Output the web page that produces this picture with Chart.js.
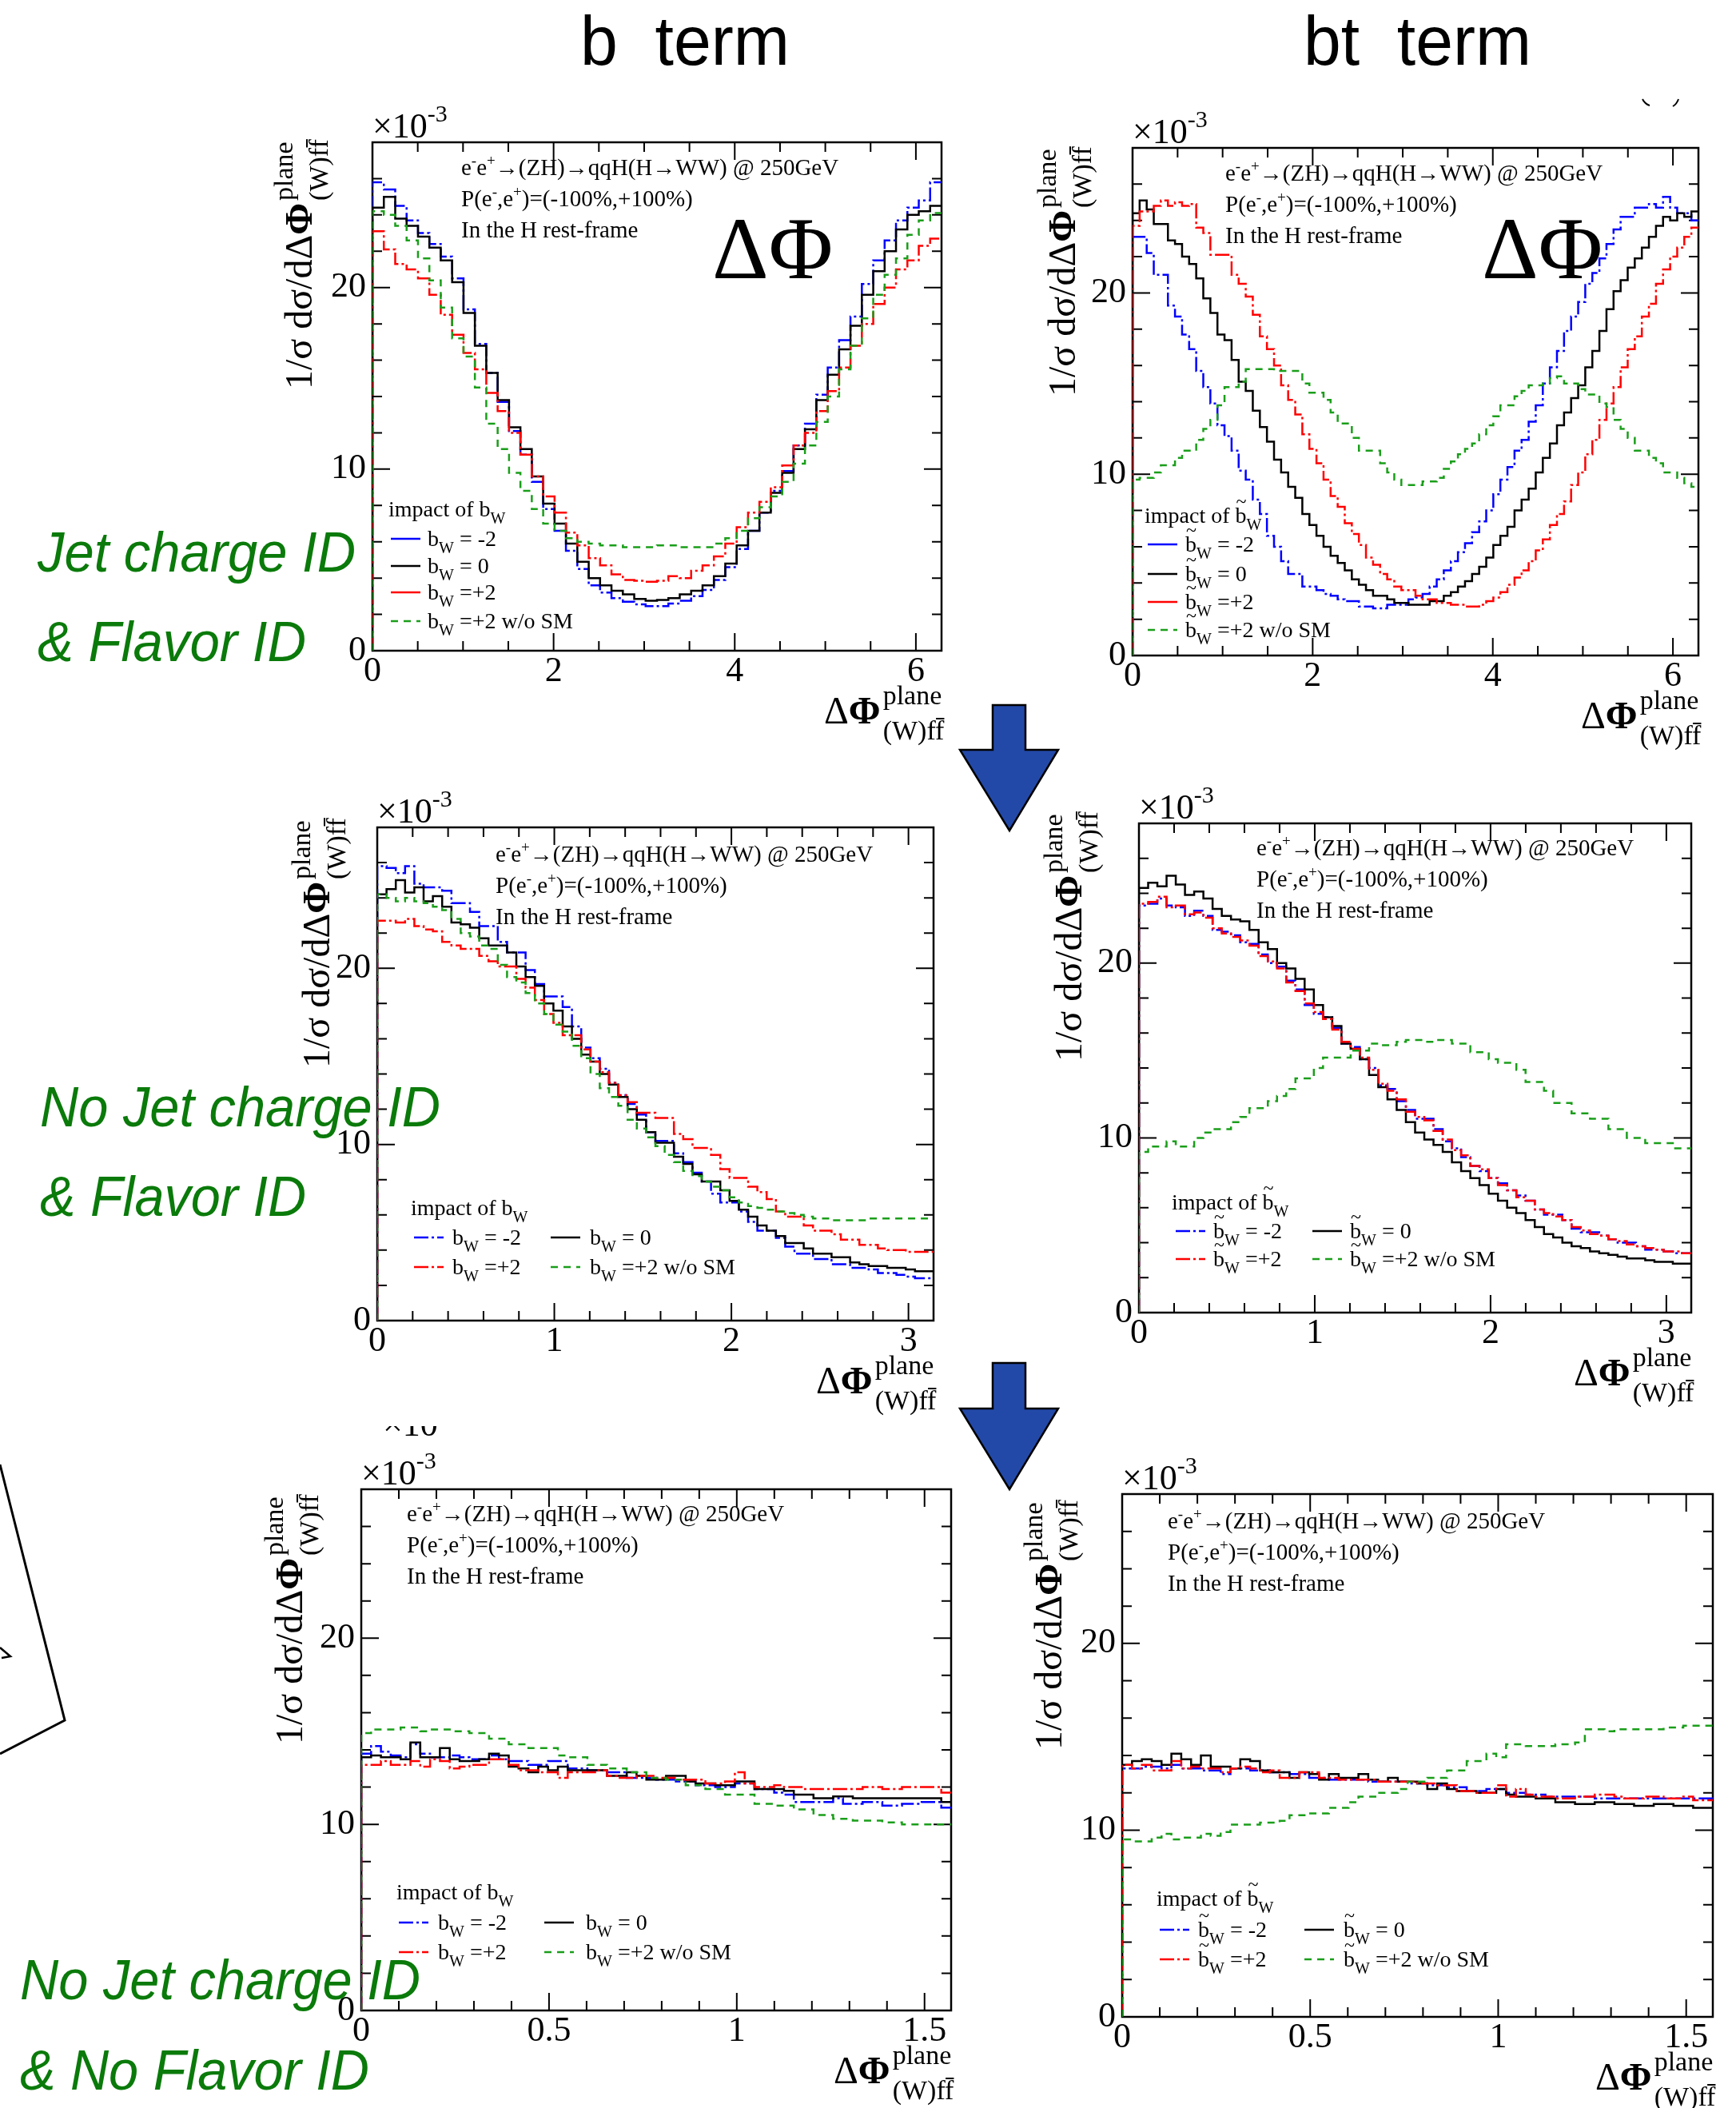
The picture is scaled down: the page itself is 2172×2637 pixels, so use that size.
<!DOCTYPE html>
<html>
<head>
<meta charset="utf-8">
<script src="https://cdn.jsdelivr.net/npm/chart.js@4.4.0/dist/chart.umd.min.js"></script>
<style>
  html, body { margin: 0; padding: 0; background: #fff; }
  #page { position: relative; width: 2172px; height: 2637px; overflow: hidden; background: #fff; }
  #page canvas { position: absolute; }
  #overlay { position: absolute; left: 0; top: 0; }
</style>
</head>
<body>
<div id="page">
  <canvas id="p1"></canvas>
  <canvas id="p2"></canvas>
  <canvas id="p3"></canvas>
  <canvas id="p4"></canvas>
  <canvas id="p5"></canvas>
  <canvas id="p6"></canvas>
  <svg id="overlay" width="2172" height="2637" xmlns="http://www.w3.org/2000/svg">
    <g font-family="Liberation Sans Narrow, Liberation Sans, Arial, sans-serif" font-size="88" fill="#000">
      <text x="726" y="81" textLength="262" lengthAdjust="spacingAndGlyphs" style="white-space:pre">b  term</text>
      <text x="1631" y="81" textLength="285" lengthAdjust="spacingAndGlyphs" style="white-space:pre">bt  term</text>
    </g>
    <g font-family="Liberation Sans, Arial, sans-serif" font-style="italic" font-size="70" fill="#0a7a0a">
      <text x="47" y="715" textLength="398" lengthAdjust="spacingAndGlyphs">Jet charge ID</text>
      <text x="47" y="827" textLength="336" lengthAdjust="spacingAndGlyphs">&amp; Flavor ID</text>
      <text x="50" y="1409" textLength="501" lengthAdjust="spacingAndGlyphs">No Jet charge ID</text>
      <text x="50" y="1521" textLength="333" lengthAdjust="spacingAndGlyphs">&amp; Flavor ID</text>
      <text x="25" y="2501" textLength="501" lengthAdjust="spacingAndGlyphs">No Jet charge ID</text>
      <text x="25" y="2614" textLength="437" lengthAdjust="spacingAndGlyphs">&amp; No Flavor ID</text>
    </g>
    <g fill="#2349a8" stroke="#000" stroke-width="2.5" stroke-linejoin="miter">
      <polygon points="1242,882 1283,882 1283,938 1324,938 1263,1039 1201,938 1242,938"/>
      <polygon points="1242,1705 1283,1705 1283,1762 1324,1762 1263,1863 1201,1762 1242,1762"/>
    </g>
    <polyline points="0,1832 81,2152 0,2194" fill="none" stroke="#000" stroke-width="3"/>
    <polyline points="0,2061 13,2072 2,2074" fill="none" stroke="#000" stroke-width="2.5"/>
    <path d="M2055,124 q3,6 9,8" fill="none" stroke="#000" stroke-width="2"/>
    <path d="M2100,124 q-2,6 -7,9" fill="none" stroke="#000" stroke-width="2"/>
    <clipPath id="cut"><rect x="470" y="1784" width="110" height="16"/></clipPath>
    <text clip-path="url(#cut)" x="479" y="1796" font-family="Liberation Serif, serif" font-size="44">×10<tspan dy="-20" font-size="30">-3</tspan></text>
  </svg>
</div>
<script>
// bin contents, in units of 1e-3
const p1Blue = [25.8,25.4,24.5,23.7,23.0,22.4,21.7,20.5,18.8,16.9,15.3,13.7,12.1,10.8,9.3,7.8,6.6,5.5,4.5,3.6,3.2,2.9,2.7,2.55,2.45,2.45,2.6,2.75,3.0,3.35,3.9,4.6,5.6,6.6,7.6,8.8,9.9,11.3,12.5,14.1,15.6,17.1,18.4,20.2,21.5,22.6,23.7,24.4,24.8,25.8];
const p1Black = [24.4,25.0,23.8,23.4,22.8,22.2,21.5,20.3,18.6,16.8,15.3,13.8,12.3,11.1,9.6,8.1,7.0,5.9,4.9,4.0,3.6,3.3,3.1,2.85,2.75,2.8,2.9,3.1,3.3,3.6,4.1,4.8,5.8,6.6,7.6,8.7,9.8,11.1,12.2,13.8,15.2,16.6,17.9,19.6,20.9,22.0,23.2,24.0,24.2,24.5];
const p1Red = [23.1,22.1,21.3,21.0,20.5,19.6,18.5,17.4,16.4,15.5,14.2,13.2,12.0,10.8,9.6,8.5,7.6,6.5,5.8,5.1,4.7,4.2,3.9,3.85,3.8,3.85,4.1,4.0,4.4,4.7,5.2,5.9,6.8,7.6,8.2,9.0,10.2,11.3,12.0,13.2,14.3,15.6,16.8,18.0,19.1,20.0,21.0,21.5,22.3,22.7];
const p1Green = [24.2,24.0,23.4,22.6,21.6,20.4,18.9,17.2,16.2,14.5,12.5,11.1,9.8,8.8,7.8,7.0,6.6,6.2,6.0,5.9,5.8,5.8,5.7,5.7,5.7,5.8,5.8,5.7,5.7,5.7,5.9,6.2,6.6,7.3,7.9,8.5,9.3,10.3,11.3,12.6,14.0,15.5,16.8,18.3,19.6,20.7,21.6,22.9,23.7,24.1];

const p2Blue = [23.1,23.1,22.2,21.0,21.0,19.3,18.7,17.7,16.9,15.7,14.8,13.9,12.7,12.1,11.3,10.2,9.7,8.6,7.8,6.6,6.0,5.2,4.5,4.5,3.8,3.8,3.6,3.4,3.3,3.1,3.0,3.0,2.7,2.7,2.6,2.6,2.8,2.8,2.8,3.1,3.2,3.4,3.8,4.2,4.7,5.2,5.7,6.2,6.8,7.4,8.0,8.9,9.7,10.4,11.3,11.9,12.9,13.8,15.0,15.9,16.8,17.9,18.7,19.5,20.5,21.1,21.9,22.7,23.5,24.2,24.2,24.7,24.7,24.9,24.7,25.3,24.7,24.4,24.4,24.0];
const p2Black = [24.4,25.1,24.6,23.8,23.8,22.9,22.7,22.0,21.6,20.8,19.7,18.9,17.7,17.4,16.3,15.1,14.6,13.5,12.6,11.8,10.8,10.1,9.3,8.7,7.8,7.2,6.6,6.0,5.5,5.1,4.7,4.2,3.9,3.6,3.3,3.3,3.1,2.9,2.9,2.8,2.8,2.8,3.0,3.0,3.3,3.5,3.8,4.1,4.5,4.9,5.4,6.1,6.6,7.1,8.0,8.6,9.2,10.1,10.9,11.7,12.7,13.4,14.2,14.9,15.9,16.8,17.9,19.1,20.1,20.7,21.4,21.9,22.5,23.1,23.7,24.2,24.0,24.4,24.2,24.5];
const p2Red = [23.7,24.5,24.5,24.8,25.1,24.8,25.0,24.8,24.9,23.6,23.3,22.1,22.1,22.1,21.0,20.5,19.8,18.8,17.6,16.9,16.0,14.9,14.1,13.3,12.2,11.4,10.6,9.7,8.8,8.2,7.3,6.7,6.1,5.4,5.0,4.5,4.2,3.8,3.6,3.6,3.3,3.1,3.1,2.9,2.9,2.8,2.8,2.7,2.7,2.8,3.0,3.2,3.5,3.9,4.3,4.7,5.2,5.8,6.4,7.2,7.8,8.5,9.4,10.1,11.1,11.9,13.0,13.9,14.8,15.9,16.9,17.6,18.7,19.4,20.5,21.3,22.0,22.5,23.1,23.6];
const p2Green = [9.7,9.8,9.8,10.1,10.5,10.5,10.9,11.3,11.3,11.9,12.5,13.0,13.8,14.8,14.8,15.1,15.8,15.8,15.8,15.8,15.7,15.7,15.7,15.7,15.0,14.5,14.5,14.1,13.4,12.8,12.8,12.0,11.3,11.3,11.3,10.6,10.1,9.7,9.4,9.4,9.4,9.6,9.6,9.8,10.3,10.7,11.1,11.4,11.7,12.2,12.7,13.2,13.8,13.8,14.3,14.6,14.9,14.9,15.0,15.3,15.4,15.0,15.0,14.7,14.4,14.4,13.9,13.7,13.0,12.5,12.0,11.3,11.3,10.9,10.6,10.1,10.1,9.8,9.5,9.3];

const p3Blue = [25.8,25.7,25.4,25.8,24.8,24.6,24.6,24.4,23.7,23.7,23.2,22.4,22.4,21.5,20.9,20.9,19.9,19.1,18.4,18.4,17.8,16.7,15.5,14.9,14.3,13.5,12.8,12.3,11.7,10.7,10.2,10.2,9.5,9.0,8.4,7.9,7.2,6.7,6.7,6.2,5.6,5.1,5.1,4.7,4.2,3.8,3.8,3.5,3.5,3.2,3.2,3.0,3.0,2.9,2.7,2.7,2.6,2.5,2.4,2.4];
const p3Black = [24.2,24.5,25.0,24.3,24.6,23.8,24.1,23.5,22.6,22.5,22.3,21.7,21.3,21.3,20.9,20.1,19.5,19.0,18.0,17.6,16.7,16.0,15.1,14.7,14.0,13.4,12.7,12.0,11.4,10.7,10.1,10.1,9.3,8.9,8.3,7.9,7.9,7.4,6.8,6.3,5.9,5.4,5.1,4.8,4.4,4.4,4.1,3.8,3.8,3.6,3.6,3.3,3.2,3.1,3.1,3.0,3.0,2.9,2.8,2.8];
const p3Red = [22.7,22.7,22.6,22.8,22.4,22.2,22.1,21.5,21.3,21.1,21.1,20.7,20.4,20.1,20.1,19.4,18.9,18.2,17.4,16.9,16.2,16.2,15.4,14.7,14.1,13.5,12.8,12.4,11.8,11.8,11.5,11.5,10.6,10.3,9.8,9.8,9.4,8.6,8.1,8.1,7.6,7.3,6.9,6.2,5.9,5.9,5.4,5.1,5.1,4.9,4.6,4.6,4.3,4.3,4.1,4.0,4.0,3.9,3.9,3.9];
const p3Green = [24.2,24.0,23.8,24.0,23.8,23.7,23.5,23.3,22.8,22.0,21.8,21.3,21.1,20.2,19.5,19.2,18.6,18.0,17.4,16.8,16.4,15.6,14.9,14.0,13.2,12.7,12.2,11.4,10.9,10.4,9.9,9.4,9.0,8.5,8.2,7.9,7.6,7.4,7.0,6.7,6.5,6.4,6.3,6.2,6.1,6.0,5.9,5.8,5.8,5.7,5.7,5.7,5.7,5.8,5.8,5.8,5.8,5.8,5.8,5.8];

const p4Blue = [23.3,23.4,23.7,23.3,23.2,22.7,23.0,22.7,21.9,21.8,21.6,21.2,21.1,20.5,20.0,19.8,19.0,18.5,17.6,17.1,16.9,16.3,15.4,15.2,14.5,14.0,13.0,12.8,12.1,11.6,11.1,11.1,10.5,9.8,9.4,8.9,8.4,8.1,7.7,7.4,7.0,6.7,6.4,5.9,5.6,5.6,5.3,4.8,4.6,4.6,4.4,4.2,4.0,4.0,3.8,3.6,3.6,3.5,3.4,3.4];
const p4Black = [24.3,24.6,24.4,25.0,24.5,23.9,24.1,23.7,23.1,22.7,22.5,22.4,21.9,21.2,20.8,20.0,19.7,19.1,18.5,17.6,16.9,16.4,15.4,15.1,14.5,13.6,12.9,12.2,11.6,10.9,10.3,9.9,9.6,9.2,8.6,8.1,7.7,7.3,6.8,6.4,6.0,5.7,5.3,4.9,4.5,4.3,4.0,3.8,3.7,3.5,3.4,3.3,3.2,3.1,3.1,3.0,2.9,2.9,2.8,2.8];
const p4Red = [23.4,23.5,23.8,23.2,23.3,22.8,22.9,22.6,22.0,21.7,21.5,21.3,21.0,20.4,20.1,19.7,18.9,18.4,17.7,17.2,16.8,16.2,15.5,15.1,14.6,13.9,13.1,12.7,12.2,11.5,11.2,11.0,10.4,9.9,9.3,9.0,8.4,8.2,7.7,7.3,7.0,6.6,6.4,5.9,5.7,5.5,5.3,4.9,4.7,4.5,4.4,4.2,4.1,3.9,3.8,3.7,3.6,3.5,3.5,3.4];
const p4Green = [9.2,9.5,9.5,9.8,9.5,9.5,10.0,10.3,10.5,10.5,10.9,11.2,11.7,11.7,12.1,12.4,12.8,13.4,13.4,14.0,14.6,14.6,14.6,15.0,15.0,15.4,15.3,15.3,15.5,15.6,15.6,15.5,15.6,15.6,15.4,15.4,14.9,14.9,14.5,14.3,14.3,13.9,13.2,13.2,12.7,12.0,12.0,11.4,11.4,11.1,11.1,10.5,10.5,10.0,10.0,9.7,9.7,9.7,9.4,9.4];

const p5Blue = [13.8,14.2,13.9,13.7,13.6,14.3,13.8,13.6,13.6,13.7,13.6,13.5,13.5,13.7,13.5,13.4,13.4,13.2,13.2,13.4,13.4,13.0,13.0,12.9,12.9,12.8,12.8,12.5,12.5,12.5,12.4,12.4,12.3,12.3,12.1,12.1,12.0,12.0,12.2,12.2,11.9,11.9,11.7,11.6,11.2,11.2,11.2,11.2,11.4,11.1,11.1,11.2,11.2,11.0,11.0,11.1,11.1,11.2,11.2,10.9];
const p5Black = [13.6,13.7,13.6,13.6,13.5,14.4,13.6,13.6,14.1,13.5,13.4,13.4,13.5,13.8,13.7,13.1,13.0,12.8,13.1,12.9,13.1,12.9,12.9,12.9,12.9,12.6,12.6,12.8,12.6,12.4,12.4,12.6,12.6,12.3,12.2,12.2,12.1,12.1,12.3,12.3,11.9,11.9,11.9,11.8,11.6,11.6,11.4,11.4,11.5,11.5,11.4,11.4,11.4,11.4,11.4,11.4,11.4,11.4,11.4,11.2];
const p5Red = [13.2,13.2,13.4,13.2,13.2,13.4,13.1,13.5,13.4,13.0,13.1,13.2,13.2,13.5,13.5,13.2,12.9,12.9,12.8,12.8,12.5,12.8,12.8,12.8,12.9,12.6,12.5,12.5,12.6,12.6,12.5,12.5,12.4,12.4,12.4,12.2,12.2,12.3,12.8,12.2,12.0,12.0,12.1,12.0,12.0,11.9,11.9,11.9,11.9,11.9,11.9,12.0,12.0,11.9,11.9,12.0,12.0,12.0,12.0,11.7];
const p5Green = [14.9,15.1,15.1,15.1,15.2,15.2,15.0,15.1,15.1,15.0,15.0,14.9,14.9,14.6,14.6,14.3,14.3,14.1,14.1,14.1,13.7,13.6,13.6,13.2,13.2,13.0,13.0,12.8,12.8,12.5,12.5,12.4,12.4,12.1,12.1,11.9,11.9,11.6,11.6,11.6,11.1,11.1,11.0,11.0,10.8,10.8,10.5,10.5,10.3,10.3,10.2,10.2,10.2,10.1,10.1,10.0,10.0,10.0,10.0,10.0];

const p6Blue = [13.3,13.3,13.4,13.4,13.3,13.5,13.3,13.3,13.2,13.2,13.0,13.3,13.3,13.2,13.2,13.1,13.1,13.0,13.0,12.8,12.8,12.7,12.7,12.7,12.7,12.6,12.6,12.6,12.6,12.5,12.5,12.4,12.4,12.3,12.3,12.1,12.1,12.2,12.2,12.0,12.0,11.9,11.9,11.8,11.8,11.8,11.8,11.8,11.7,11.7,11.7,11.7,11.7,11.7,11.7,11.7,11.7,11.7,11.7,11.7];
const p6Black = [13.5,13.7,13.8,13.7,13.5,14.1,13.8,13.5,14.0,13.4,13.4,13.3,13.8,13.7,13.2,13.1,13.1,12.8,13.1,13.0,12.7,13.0,12.8,12.8,13.0,12.7,12.6,12.8,12.6,12.6,12.5,12.2,12.5,12.2,12.1,12.1,12.0,12.0,12.2,11.9,11.8,11.8,11.7,11.7,11.5,11.5,11.4,11.4,11.5,11.5,11.4,11.4,11.3,11.3,11.4,11.4,11.3,11.3,11.2,11.2];
const p6Red = [13.5,13.3,13.5,13.2,13.2,13.7,13.3,13.4,13.3,13.3,13.1,13.3,13.4,13.3,13.1,13.2,12.8,12.8,13.1,13.1,12.8,12.8,12.7,12.7,12.7,12.7,12.6,12.6,12.6,12.6,12.5,12.5,12.4,12.4,12.1,12.1,12.0,12.0,12.4,11.8,12.2,11.9,11.8,11.8,11.7,11.7,11.8,11.8,11.9,11.9,11.8,11.7,11.7,11.8,11.8,11.7,11.7,11.8,11.6,11.6];
const p6Green = [9.5,9.4,9.4,9.6,9.8,9.5,9.6,9.6,9.8,9.7,9.9,10.3,10.3,10.3,10.4,10.4,10.5,10.8,10.8,10.9,10.9,11.2,11.2,11.5,11.8,11.8,12.0,12.0,12.2,12.6,12.6,12.8,12.8,13.2,13.2,13.7,13.7,14.1,13.9,14.6,14.6,14.5,14.5,14.5,14.6,14.6,14.7,15.4,15.4,15.3,15.4,15.4,15.4,15.4,15.4,15.5,15.5,15.6,15.6,15.6];

const xTicksFull = [0, 2, 4, 6];
const xTicksHalf = [0, 1, 2, 3];
const xTicksQuarter = [0, 0.5, 1, 1.5];
const yTicks = [0, 10, 20];
const legendValues = [' = -2', ' = 0', ' =+2', ' =+2 w/o SM'];

const SERIF = '"Liberation Serif", "Times New Roman", serif';

// blue, black, red, green
const seriesStyle = [
  { color: '#0000ff', dash: [18, 4, 3, 4], order: 4 },
  { color: '#000000', dash: [], order: 3 },
  { color: '#ff0000', dash: [18, 4, 3, 4], order: 2 },
  { color: '#1a9e1a', dash: [9, 7], order: 1 }
];

// box = [left, top, right, bottom] of each frame on the page
const panels = [
  { id: 'p1', box: [466, 178, 1178, 814], xmax: 2 * Math.PI, xTicks: xTicksFull, xMinor: 0.5,
    bins: [p1Blue, p1Black, p1Red, p1Green], tilde: false, bigPhi: [425, 170], proc: [111, 41], yTitle: [-76, 309], legendSolid: true,
    legend: { title: [20, 468], items: [[23, 60, 69, 505], [23, 60, 69, 539], [23, 60, 69, 572], [23, 60, 69, 608]] } },
  { id: 'p2', box: [1417, 185, 2125, 820], xmax: 2 * Math.PI, xTicks: xTicksFull, xMinor: 0.5,
    bins: [p2Blue, p2Black, p2Red, p2Green], tilde: true, bigPhi: [437, 163], proc: [116, 41], yTitle: [-72, 311], legendSolid: true,
    legend: { title: [15, 469], items: [[19, 56, 66, 505], [19, 56, 66, 542], [19, 56, 66, 577], [19, 56, 66, 612]] } },
  { id: 'p3', box: [472, 1035, 1168, 1652], xmax: Math.PI, xTicks: xTicksHalf, xMinor: 0.2,
    bins: [p3Blue, p3Black, p3Red, p3Green], tilde: false, bigPhi: null, proc: [148, 43], yTitle: [-60, 301], legendSolid: false,
    legend: { title: [42, 485], items: [[46, 83, 94, 522], [217, 254, 266, 522], [46, 83, 94, 559], [217, 254, 266, 559]] } },
  { id: 'p4', box: [1425, 1030, 2116, 1642], xmax: Math.PI, xTicks: xTicksHalf, xMinor: 0.2,
    bins: [p4Blue, p4Black, p4Red, p4Green], tilde: true, bigPhi: null, proc: [147, 40], yTitle: [-72, 298], legendSolid: false,
    legend: { title: [41, 483], items: [[46, 83, 93, 519], [217, 254, 264, 519], [46, 83, 93, 554], [217, 254, 264, 554]] } },
  { id: 'p5', box: [452, 1863, 1190, 2515], xmax: Math.PI / 2, xTicks: xTicksQuarter, xMinor: 0.1,
    bins: [p5Blue, p5Black, p5Red, p5Green], tilde: false, bigPhi: null, proc: [57, 40], yTitle: [-74, 319], legendSolid: false,
    legend: { title: [44, 513], items: [[47, 84, 96, 551], [229, 266, 281, 551], [47, 84, 96, 588], [229, 266, 281, 588]] } },
  { id: 'p6', box: [1404, 1869, 2143, 2523], xmax: Math.PI / 2, xTicks: xTicksQuarter, xMinor: 0.1,
    bins: [p6Blue, p6Black, p6Red, p6Green], tilde: true, bigPhi: null, proc: [57, 43], yTitle: [-76, 320], legendSolid: false,
    legend: { title: [43, 515], items: [[47, 84, 95, 554], [228, 265, 277, 554], [47, 84, 95, 591], [228, 265, 277, 591]] } }
];

// histogram outline: rise from zero at x=0, one step per bin
function histPoints(vals, xmax) {
  const w = xmax / vals.length;
  const pts = [{ x: 0, y: 0 }];
  vals.forEach((v, i) => pts.push({ x: i * w, y: v }));
  pts.push({ x: xmax, y: vals[vals.length - 1] });
  return pts;
}

function setFont(ctx, size, bold) {
  ctx.font = (bold ? 'bold ' : '') + size + 'px ' + SERIF;
}
function put(ctx, s, x, y, size, bold) {
  setFont(ctx, size, bold);
  ctx.fillText(s, x, y);
  return ctx.measureText(s).width;
}
function putRuns(ctx, runs, x, y) {
  let cx = x;
  runs.forEach(([s, size, dy]) => { cx += put(ctx, s, cx, y + dy, size); });
}

// ΔΦ with "plane" above and "(W)ff̄" below
function phiLabel(ctx, prefix, x, y) {
  let w = put(ctx, prefix, x, y, 48);
  w += put(ctx, 'Φ', x + w, y, 48, true);
  const sx = x + w + 3;
  put(ctx, 'plane', sx, y - 24, 34);
  const ws = put(ctx, '(W)ff', sx, y + 20, 34);
  setFont(ctx, 34);
  const fw = ctx.measureText('f').width;
  ctx.fillRect(sx + ws - fw + 1, y + 20 - 27, fw - 1, 2);
}

function legendB(ctx, x, y, tilde) {
  const w = put(ctx, 'b', x, y, 28);
  if (tilde) put(ctx, '~', x + 1, y - 19, 24);
  const ws = put(ctx, 'W', x + w, y + 9, 20);
  return w + ws;
}

function makeFrame(p) {
  return {
    id: 'rootFrame_' + p.id,
    beforeDatasetsDraw(chart) {
      const ctx = chart.ctx, a = chart.chartArea;
      const xs = chart.scales.x, ys = chart.scales.y;
      ctx.save();
      ctx.strokeStyle = '#000';
      ctx.lineWidth = 2.5;
      ctx.strokeRect(a.left, a.top, a.right - a.left, a.bottom - a.top);
      ctx.lineWidth = 2;
      ctx.beginPath();
      for (let i = 0; i * p.xMinor <= p.xmax + 1e-9; i++) {
        const v = i * p.xMinor;
        const len = p.xTicks.some(t => Math.abs(t - v) < 1e-6) ? 22 : 12;
        const px = xs.getPixelForValue(v);
        ctx.moveTo(px, a.bottom); ctx.lineTo(px, a.bottom - len);
        ctx.moveTo(px, a.top); ctx.lineTo(px, a.top + len);
      }
      for (let v = 0; v <= 28; v += 2) {
        const len = yTicks.includes(v) ? 22 : 12;
        const py = ys.getPixelForValue(v);
        ctx.moveTo(a.left, py); ctx.lineTo(a.left + len, py);
        ctx.moveTo(a.right, py); ctx.lineTo(a.right - len, py);
      }
      ctx.stroke();
      ctx.restore();
    },
    afterDatasetsDraw(chart) {
      const ctx = chart.ctx, a = chart.chartArea;
      const L = a.left, T = a.top, R = a.right, B = a.bottom;
      ctx.save();
      ctx.fillStyle = '#000';
      ctx.textBaseline = 'alphabetic';
      ctx.textAlign = 'left';

      putRuns(ctx, [['×10', 44, 0], ['-3', 30, -20]], L, T - 6);

      // process description
      const px = L + p.proc[0], py = T + p.proc[1];
      putRuns(ctx, [['e', 29, 0], ['-', 19, -12], ['e', 29, 0], ['+', 19, -12], ['→(ZH)→qqH(H→WW) @ 250GeV', 29, 0]], px, py);
      putRuns(ctx, [['P(e', 29, 0], ['-', 19, -12], [',e', 29, 0], ['+', 19, -12], [')=(-100%,+100%)', 29, 0]], px, py + 39);
      put(ctx, 'In the H rest-frame', px, py + 78, 29);

      if (p.bigPhi) put(ctx, 'ΔΦ', L + p.bigPhi[0], T + p.bigPhi[1], 110);

      // axis titles
      ctx.save();
      ctx.translate(L + p.yTitle[0], T + p.yTitle[1]);
      ctx.rotate(-Math.PI / 2);
      phiLabel(ctx, '1/σ dσ/dΔ', 0, 0);
      ctx.restore();
      phiLabel(ctx, 'Δ', R - 147, B + 91);

      // legend
      const lg = p.legend;
      const tw = put(ctx, 'impact of ', L + lg.title[0], T + lg.title[1], 28);
      legendB(ctx, L + lg.title[0] + tw, T + lg.title[1], p.tilde);
      lg.items.forEach((it, k) => {
        const st = seriesStyle[k];
        const y = T + it[3];
        ctx.save();
        ctx.strokeStyle = st.color;
        ctx.lineWidth = 2.5;
        ctx.setLineDash(p.legendSolid && k !== 3 ? [] : st.dash);
        ctx.beginPath();
        ctx.moveTo(L + it[0], y - 9);
        ctx.lineTo(L + it[1], y - 9);
        ctx.stroke();
        ctx.restore();
        const bw = legendB(ctx, L + it[2], y, p.tilde);
        put(ctx, legendValues[k], L + it[2] + bw, y, 28);
      });
      ctx.restore();
    }
  };
}

const padL = 170, padT = 70, padR = 50, padB = 150;
const yAxisW = 80, xAxisH = 70;

panels.forEach(p => {
  const [L, T, R, B] = p.box;
  const cv = document.getElementById(p.id);
  cv.width = R - L + padL + padR;
  cv.height = B - T + padT + padB;
  cv.style.left = (L - padL) + 'px';
  cv.style.top = (T - padT) + 'px';

  new Chart(cv, {
    type: 'line',
    data: {
      datasets: seriesStyle.map((st, k) => ({
        data: histPoints(p.bins[k], p.xmax),
        borderColor: st.color,
        borderDash: st.dash,
        borderWidth: 2.5,
        stepped: true,
        pointRadius: 0,
        fill: false,
        order: st.order
      }))
    },
    options: {
      responsive: false,
      animation: false,
      devicePixelRatio: 1,
      events: [],
      layout: { padding: { left: padL - yAxisW, top: padT, right: padR, bottom: padB - xAxisH } },
      plugins: { legend: { display: false }, tooltip: { enabled: false } },
      scales: {
        x: {
          type: 'linear', min: 0, max: p.xmax,
          grid: { display: false, drawTicks: false },
          border: { display: false },
          afterBuildTicks: s => { s.ticks = p.xTicks.map(v => ({ value: v })); },
          afterFit: s => { s.height = xAxisH; },
          ticks: { color: '#000', font: { family: SERIF, size: 44 }, padding: 0, maxRotation: 0, autoSkip: false, callback: v => String(v) }
        },
        y: {
          type: 'linear', min: 0, max: 28,
          grid: { display: false, drawTicks: false },
          border: { display: false },
          afterBuildTicks: s => { s.ticks = yTicks.map(v => ({ value: v })); },
          afterFit: s => { s.width = yAxisW; },
          ticks: { color: '#000', font: { family: SERIF, size: 44 }, padding: 8, autoSkip: false, callback: v => String(v) }
        }
      }
    },
    plugins: [makeFrame(p)]
  });
});
</script>
</body>
</html>
